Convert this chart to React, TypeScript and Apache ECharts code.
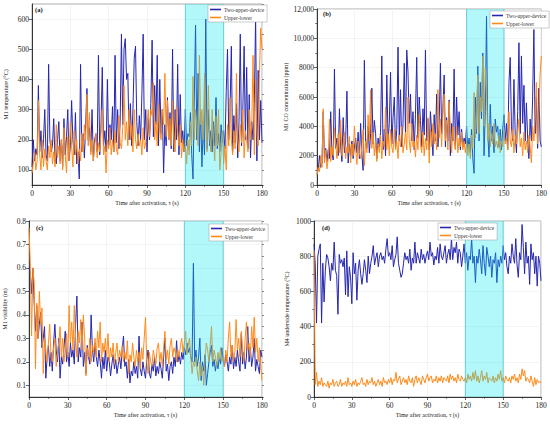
import React, { useEffect, useRef } from "react";
import * as echarts from "echarts";

const times: number[] = Array.from({ length: 181 }, (_, i) => i);

const aTwo = [
  110, 200, 130, 170, 150, 380, 160, 230, 140, 200,
  300, 150, 130, 450, 200, 160, 180, 270, 140, 120,
  200, 260, 130, 200, 110, 270, 150, 210, 300, 130,
  180, 330, 200, 150, 290, 120, 160, 70, 450, 160,
  220, 140, 250, 370, 200, 240, 160, 300, 130, 200,
  220, 160, 480, 150, 250, 440, 180, 230, 160, 400,
  180, 250, 200, 310, 160, 480, 190, 300, 170, 260,
  550, 250, 500, 535, 400, 420, 200, 320, 180, 300,
  470, 510, 260, 180, 280, 200, 350, 550, 200, 300,
  160, 270, 200, 320, 530, 210, 380, 250, 480, 180,
  400, 220, 300, 90, 250, 180, 340, 200, 290, 170,
  500, 160, 300, 200, 450, 150, 350, 190, 230, 160,
  300, 180, 220, 210, 290, 150, 70, 330, 580, 200,
  420, 160, 290, 110, 250, 150, 600, 170, 300, 180,
  230, 160, 260, 180, 340, 170, 220, 160, 250, 190,
  230, 170, 360, 500, 200, 300, 510, 160, 280, 190,
  320, 140, 260, 550, 180, 300, 510, 200, 440, 170,
  350, 140, 260, 200, 320, 610, 130, 430, 200, 330,
  190,
];
const aUp = [
  90, 120, 160, 100, 130, 330, 150, 100, 200, 110,
  170, 130, 100, 180, 140, 200, 120, 160, 110, 250,
  140, 180, 120, 200, 100, 240, 150, 90, 210, 130,
  260, 180, 110, 230, 150, 200, 120, 170, 130, 220,
  160, 250, 200, 350, 180, 290, 150, 200, 130, 180,
  220, 140, 190, 160, 230, 300, 150, 180, 90, 200,
  170, 240, 150, 200, 160, 230, 170, 150, 280, 190,
  170, 240, 380, 200, 260, 180, 300, 200, 250, 160,
  300, 200, 170, 220, 180, 200, 150, 240, 170, 190,
  250, 300, 210, 300, 280, 390, 200, 260, 180, 320,
  230, 200, 300, 250, 420, 210, 330, 200, 270, 180,
  330, 200, 160, 310, 220, 180, 250, 140, 200, 160,
  180, 120, 200, 150, 260, 180, 410, 200, 300, 250,
  180, 480, 250, 300, 200, 420, 280, 160, 380, 220,
  160, 300, 200, 130, 280, 180, 300, 100, 160, 230,
  120, 180, 100, 250, 180, 340, 200, 150, 230, 170,
  420, 200, 160, 250, 190, 300, 140, 230, 200, 160,
  300, 200, 250, 480, 150, 400, 230, 180, 420, 570,
  500,
];

const bTwo = [
  800, 1000, 2000, 1200, 1500, 5000, 1800, 2500, 1600, 2400,
  1800, 5000, 2200, 1700, 7900, 2500, 3200, 2000, 5200, 2600,
  1600, 4600, 2200, 3000, 6400, 1500, 2800, 2000, 3000, 1800,
  2600, 3200, 2200, 3600, 1800, 4200, 2000, 1000, 8500, 3000,
  2500, 4000, 2200, 3500, 6600, 2800, 4400, 3500, 1800, 3200,
  2600, 3600, 8800, 2400, 3800, 2000, 7500, 3000, 4200, 7700,
  2800, 4600, 6000, 2500, 3800, 9400, 3000, 6500, 2600, 4200,
  8300, 3500, 9200, 7700, 4200, 6200, 3000, 5000, 2400, 4800,
  8700, 3200, 6000, 4400, 2600, 5200, 3400, 9200, 3000, 4500,
  2400, 5000, 3600, 2000, 4800, 3000, 6200, 2600, 4200, 8300,
  3500, 5200, 7500, 2600, 4600, 3000, 5800, 2000, 4200, 3000,
  7900, 2500, 6000, 3400, 5000, 2400, 3800, 2600, 3200, 2800,
  4000, 2500, 3200, 2200, 3800, 1800, 800, 6000, 3500, 8100,
  3000, 7000, 4500, 9000, 2000, 5000, 11500, 3500, 1900, 5500,
  3000, 4000, 2200, 4500, 3600, 4000, 2600, 3800, 2400, 3800,
  4800, 3000, 4200, 2400, 7000, 8700, 4000, 3000, 7200, 3500,
  2200, 5000, 9700, 3500, 8800, 4200, 6800, 3000, 5600, 3200,
  1800, 4500, 3000, 6000, 10600, 3500, 6000, 2500, 6600, 3000,
  2600,
];
const bUp = [
  700, 1200, 900, 2000, 1200, 5200, 1500, 2400, 1100, 1800,
  4500, 1600, 2600, 2000, 3900, 2800, 1800, 3500, 2200, 4400,
  2000, 2800, 3600, 1800, 2600, 2200, 3300, 1500, 2800, 2000,
  4000, 2500, 1400, 3000, 2200, 1800, 2600, 3800, 1300, 3000,
  2200, 4800, 3000, 6500, 2500, 3600, 2000, 3000, 1600, 2800,
  2200, 3400, 1800, 3000, 2600, 5300, 2400, 3500, 2000, 3800,
  2600, 2200, 3800, 2400, 3000, 1800, 3400, 2600, 4000, 2200,
  2800, 3600, 2400, 6000, 3000, 2200, 4200, 2600, 3000, 1900,
  3400, 2400, 4800, 2800, 2200, 3600, 2000, 3200, 2400, 4600,
  1500, 3800, 2600, 4200, 2800, 3500, 2400, 6500, 3200, 4500,
  2600, 5000, 6200, 3000, 4400, 2400, 5700, 3600, 2200, 4000,
  3000, 2400, 4000, 2200, 3200, 2600, 3600, 2400, 3000, 2200,
  3000, 2000, 2800, 1800, 3400, 2500, 6300, 3200, 4500, 7500,
  3500, 6000, 5000, 8800, 4000, 8000, 6500, 3000, 4200, 2600,
  3500, 2800, 4200, 2600, 3000, 2500, 3400, 2200, 3000, 2600,
  3800, 2800, 3200, 2400, 5000, 3000, 2600, 3800, 2200, 3400,
  2800, 3600, 4500, 2600, 3200, 2000, 3600, 2400, 3000, 2200,
  3400, 2600, 1500, 4000, 3000, 4500, 7000, 2800, 5000, 7600,
  8800,
];

const cTwo = [
  0.6, 0.58, 0.49, 0.6, 0.45, 0.33, 0.44, 0.3, 0.36, 0.41,
  0.26, 0.3, 0.35, 0.13, 0.22, 0.27, 0.18, 0.24, 0.16, 0.28,
  0.36, 0.25, 0.2, 0.3, 0.13, 0.22, 0.19, 0.26, 0.33, 0.2,
  0.24, 0.18, 0.28, 0.22, 0.25, 0.19, 0.36, 0.48, 0.2, 0.26,
  0.22, 0.37, 0.18, 0.24, 0.15, 0.27, 0.22, 0.19, 0.4, 0.25,
  0.2, 0.28, 0.22, 0.18, 0.25, 0.2, 0.13, 0.22, 0.17, 0.25,
  0.16, 0.22, 0.2, 0.14, 0.19, 0.23, 0.17, 0.21, 0.15, 0.19,
  0.22, 0.17, 0.25, 0.31, 0.18, 0.2, 0.13, 0.21, 0.11, 0.16,
  0.14, 0.2, 0.15, 0.18, 0.13, 0.31, 0.17, 0.14, 0.2, 0.16,
  0.13, 0.21, 0.25, 0.15, 0.13, 0.19, 0.16, 0.22, 0.14, 0.18,
  0.15, 0.2, 0.17, 0.13, 0.22, 0.3, 0.16, 0.19, 0.12, 0.18,
  0.2, 0.15, 0.22, 0.18, 0.29, 0.2, 0.23, 0.19, 0.24, 0.21,
  0.26, 0.23, 0.28, 0.24, 0.26, 0.22, 0.2, 0.62, 0.2, 0.25,
  0.18, 0.22, 0.3, 0.12, 0.2, 0.16, 0.23, 0.1, 0.15, 0.2,
  0.24, 0.27, 0.18, 0.21, 0.16, 0.2, 0.17, 0.22, 0.19, 0.26,
  0.21, 0.18, 0.23, 0.2, 0.16, 0.22, 0.19, 0.27, 0.17, 0.22,
  0.18, 0.25, 0.2, 0.16, 0.32, 0.19, 0.24, 0.17, 0.22, 0.35,
  0.2, 0.26, 0.18, 0.22, 0.3, 0.16, 0.21, 0.18, 0.15, 0.25,
  0.22,
];
const cUp = [
  0.77, 0.62, 0.31, 0.6, 0.54, 0.17, 0.45, 0.3, 0.5, 0.36,
  0.43, 0.15, 0.3, 0.25, 0.2, 0.28, 0.36, 0.22, 0.2, 0.26,
  0.3, 0.18, 0.24, 0.28, 0.35, 0.22, 0.3, 0.2, 0.25, 0.32,
  0.22, 0.44, 0.28, 0.37, 0.25, 0.44, 0.3, 0.22, 0.33, 0.28,
  0.38, 0.25, 0.4, 0.3, 0.14, 0.26, 0.22, 0.3, 0.2, 0.27,
  0.24, 0.3, 0.22, 0.33, 0.26, 0.37, 0.2, 0.28, 0.24, 0.3,
  0.22, 0.32, 0.2, 0.26, 0.22, 0.28, 0.19, 0.24, 0.28, 0.2,
  0.25, 0.22, 0.27, 0.2, 0.24, 0.21, 0.29, 0.15, 0.23, 0.2,
  0.28, 0.22, 0.18, 0.25, 0.2, 0.24, 0.17, 0.26, 0.21, 0.3,
  0.39, 0.2, 0.15, 0.24, 0.2, 0.18, 0.25, 0.22, 0.19, 0.26,
  0.28, 0.2, 0.24, 0.18, 0.26, 0.33, 0.21, 0.25, 0.19, 0.27,
  0.3, 0.22, 0.26, 0.24, 0.2, 0.25, 0.22, 0.27, 0.3, 0.24,
  0.28, 0.33, 0.23, 0.27, 0.3, 0.22, 0.15, 0.2, 0.18, 0.22,
  0.16, 0.12, 0.2, 0.14, 0.18, 0.1, 0.22, 0.28, 0.25, 0.2,
  0.27, 0.35, 0.2, 0.25, 0.22, 0.18, 0.24, 0.21, 0.26, 0.2,
  0.22, 0.18, 0.25, 0.2, 0.3, 0.37, 0.22, 0.27, 0.2, 0.24,
  0.38, 0.25, 0.3, 0.22, 0.33, 0.26, 0.2, 0.3, 0.37, 0.25,
  0.28, 0.22, 0.35, 0.26, 0.39, 0.24, 0.3, 0.2, 0.26, 0.18,
  0.12,
];

const dTwo = [
  870, 750, 420, 800, 840, 870, 420, 760, 540, 720,
  810, 790, 740, 660, 760, 720, 880, 720, 690, 470,
  810, 760, 780, 740, 790, 580, 830, 570, 740, 680,
  530, 820, 700, 760, 550, 720, 780, 700, 640, 700,
  780, 720, 650, 800, 700, 760, 800, 860, 750, 790,
  820, 740, 800, 820, 780, 800, 760, 840, 900, 800,
  820, 780, 860, 740, 780, 810, 910, 760, 720, 680,
  700, 760, 820, 780, 800, 760, 840, 720, 790, 760,
  880, 760, 820, 790, 760, 840, 780, 810, 760, 800,
  830, 780, 880, 800, 820, 750, 800, 780, 850, 760,
  870, 800, 780, 820, 860, 760, 810, 840, 780, 900,
  780, 850, 820, 880, 760, 840, 820, 740, 800, 870,
  760, 820, 720, 800, 780, 900, 760, 800, 650, 800,
  760, 840, 780, 700, 860, 760, 690, 850, 800, 740,
  800, 680, 780, 760, 820, 650, 780, 740, 800, 760,
  860, 780, 820, 740, 700, 800, 760, 870, 800, 760,
  900, 750, 680, 820, 780, 980, 850, 700, 880, 760,
  800, 640, 870, 780, 820, 700, 800, 630, 800, 760,
  660,
];
const dUp = [
  830, 70, 140, 60, 90, 70, 110, 60, 80, 70,
  60, 90, 50, 80, 70, 100, 60, 80, 90, 60,
  70, 100, 60, 80, 70, 90, 60, 110, 70, 80,
  60, 90, 70, 100, 60, 80, 70, 90, 110, 70,
  80, 60, 100, 70, 90, 80, 110, 70, 90, 60,
  80, 100, 70, 90, 60, 110, 80, 90, 70, 100,
  80, 110, 70, 100, 90, 140, 80, 100, 120, 70,
  90, 110, 80, 100, 70, 120, 90, 80, 110, 60,
  100, 120, 80, 110, 90, 70, 120, 100, 80, 110,
  130, 90, 110, 120, 80, 100, 90, 120, 80, 110,
  90, 120, 80, 110, 100, 90, 120, 80, 130, 100,
  120, 90, 110, 80, 130, 100, 90, 120, 100, 90,
  110, 80, 130, 100, 120, 90, 140, 100, 150, 90,
  120, 80, 110, 150, 90, 120, 100, 140, 80, 110,
  100, 90, 120, 80, 110, 90, 130, 100, 150, 90,
  110, 80, 120, 100, 90, 110, 80, 120, 100, 130,
  90, 110, 80, 130, 100, 160, 120, 150, 90, 110,
  100, 80, 120, 90, 60, 110, 70, 100, 80, 90,
  80,
];

const seriesNames = ["Two-upper-device", "Upper-lower"];
const xTicks = [0, 30, 60, 90, 120, 150, 180];
const bandRange = [120, 150];
const aLabels = [100, 200, 300, 400, 500, 600];
const cLabels = [0.1, 0.2, 0.3, 0.4, 0.5, 0.6, 0.7, 0.8];
const yTitles = [
  "M1 temperature (°C)",
  "M1 CO concentration (ppm)",
  "M1 visibility (m)",
  "M4 underside temperature (°C)",
];
const panelTags = ["(a)", "(b)", "(c)", "(d)"];
const xTitle = "Time after activation, τ (s)";

const BLUE = "#2626b0";
const ORANGE = "#ff8a1a";
const FONT = "Liberation Serif";

export default function App() {
  const ref = useRef<HTMLDivElement>(null);
  useEffect(() => {
    document.body.style.margin = "0";
    if (!ref.current) return;
    const chart = echarts.init(ref.current, undefined, { renderer: "svg" });

    const grids = [
      { left: 32, right: 288, top: 4, bottom: 239 },
      { left: 317, right: 8, top: 9, bottom: 239 },
      { left: 29, right: 288, top: 221, bottom: 27 },
      { left: 314, right: 9, top: 221, bottom: 27 },
    ].map((g) => ({ ...g, show: true, borderColor: "#777", borderWidth: 0.6 }));

    const ranges = [
      [50, 650],
      [0, 12000],
      [0.05, 0.8],
      [0, 1000],
    ];
    const intervals = [50, 2000, 0.05, 200];

    const splitLine = { show: true, lineStyle: { color: "#ececec", width: 0.6 } };
    const axisLine = { show: true, lineStyle: { color: "#222", width: 0.9 } };
    const labelStyle = { fontFamily: FONT, fontSize: 7.5, color: "#222" };
    const nameStyle = { fontFamily: FONT, fontSize: 6, color: "#222" };

    const xAxis = grids.map((_, i) => ({
      type: "value",
      gridIndex: i,
      min: 0,
      max: 180,
      interval: 30,
      name: xTitle,
      nameLocation: "middle",
      nameGap: 15,
      nameTextStyle: nameStyle,
      axisLine,
      axisTick: { show: true, length: 3, lineStyle: { color: "#222", width: 0.7 } },
      minorTick: { show: true, splitNumber: 2, length: 1.8, lineStyle: { color: "#222", width: 0.6 } },
      axisLabel: { ...labelStyle, margin: 4, customValues: xTicks },
      splitLine,
    }));

    const yNameGaps = [23, 26, 21, 24];
    const yMain = grids.map((_, i) => {
      const base: any = {
        type: "value",
        gridIndex: i,
        min: ranges[i][0],
        max: ranges[i][1],
        interval: intervals[i],
        name: yTitles[i],
        nameLocation: "middle",
        nameGap: yNameGaps[i],
        nameTextStyle: nameStyle,
        axisLine,
        axisTick: { show: true, length: 3, lineStyle: { color: "#222", width: 0.7 } },
        axisLabel: { ...labelStyle, margin: 3 },
        splitLine,
      };
      if (i === 0) {
        base.axisLabel.customValues = aLabels;
        base.axisTick.customValues = aLabels;
      } else if (i === 2) {
        base.axisLabel.customValues = cLabels;
        base.axisTick.customValues = cLabels;
        base.axisLabel.formatter = (v: number) => (Math.round(v * 10) / 10).toFixed(1);
      } else if (i === 1) {
        base.minorTick = { show: true, splitNumber: 2, length: 1.8, lineStyle: { color: "#222", width: 0.6 } };
        base.axisLabel.formatter = (v: number) =>
          v >= 10000 ? String(Math.floor(v / 1000)) + "," + String(v % 1000).padStart(3, "0") : String(v);
      } else {
        base.minorTick = { show: true, splitNumber: 2, length: 1.8, lineStyle: { color: "#222", width: 0.6 } };
        base.axisLabel.formatter = (v: number) => String(v);
      }
      return base;
    });
    const yMinor = [0, 2].map((i) => ({
      type: "value",
      gridIndex: i,
      min: ranges[i][0],
      max: ranges[i][1],
      interval: intervals[i],
      axisLine: { show: false },
      axisTick: { show: true, length: 1.8, lineStyle: { color: "#222", width: 0.6 } },
      axisLabel: { show: false },
      splitLine: { show: false },
    }));

    const datasets = [
      [aTwo, aUp],
      [bTwo, bUp],
      [cTwo, cUp],
      [dTwo, dUp],
    ];
    const series: any[] = [];
    datasets.forEach((pair, i) => {
      pair.forEach((arr, k) => {
        series.push({
          type: "line",
          name: seriesNames[k],
          xAxisIndex: i,
          yAxisIndex: i,
          showSymbol: false,
          symbol: "none",
          data: times.map((t, j) => [t, arr[j]]),
          lineStyle: { color: k === 0 ? BLUE : ORANGE, width: 1 },
          itemStyle: { color: k === 0 ? BLUE : ORANGE },
          z: 2 + k,
        });
      });
      const yr = ranges[i];
      series.push({
        type: "custom",
        xAxisIndex: i,
        yAxisIndex: i,
        silent: true,
        z: 6,
        data: [[bandRange[0], bandRange[1]]],
        encode: { x: [0, 1] },
        renderItem: (_p: any, api: any) => {
          const p0 = api.coord([api.value(0), yr[1]]);
          const p1 = api.coord([api.value(1), yr[0]]);
          return {
            type: "group",
            children: [
              {
                type: "rect",
                shape: { x: p0[0], y: p0[1], width: p1[0] - p0[0], height: p1[1] - p0[1] },
                style: { fill: "rgba(0,228,240,0.3)" },
              },
              {
                type: "line",
                shape: { x1: p0[0], y1: p0[1], x2: p0[0], y2: p1[1] },
                style: { stroke: "#4fc4cc", lineWidth: 0.8 },
              },
              {
                type: "line",
                shape: { x1: p1[0], y1: p0[1], x2: p1[0], y2: p1[1] },
                style: { stroke: "#4fc4cc", lineWidth: 0.8 },
              },
            ],
          };
        },
      });
    });

    const legendPos = [
      { left: 208, top: 5 },
      { left: 490, top: 11 },
      { left: 209, top: 224 },
      { left: 438, top: 223 },
    ];
    const legend = legendPos.map((p) => ({
      ...p,
      orient: "vertical",
      data: seriesNames,
      icon: "rect",
      itemWidth: 11,
      itemHeight: 1.6,
      itemGap: 2,
      padding: [1.5, 3, 1.5, 2],
      borderColor: "#999",
      borderWidth: 0.5,
      backgroundColor: "#fff",
      selectedMode: false,
      textStyle: { fontFamily: FONT, fontSize: 5.5, color: "#333", padding: [0, 0, 0, -2] },
      z: 10,
    }));

    const tagPos = [
      [35, 6],
      [323, 10],
      [36, 224],
      [322, 224],
    ];
    const graphic = panelTags.map((t, i) => ({
      type: "text",
      left: tagPos[i][0],
      top: tagPos[i][1],
      z: 20,
      style: { text: t, fontFamily: FONT, fontSize: 6.5, fontWeight: "bold", fill: "#111" },
    }));

    chart.setOption({
      animation: false,
      backgroundColor: "#fff",
      grid: grids,
      xAxis,
      yAxis: [...yMain, ...yMinor],
      series,
      legend,
      graphic,
    });
    return () => chart.dispose();
  }, []);
  return <div ref={ref} style={{ width: 550, height: 424 }} />;
}
